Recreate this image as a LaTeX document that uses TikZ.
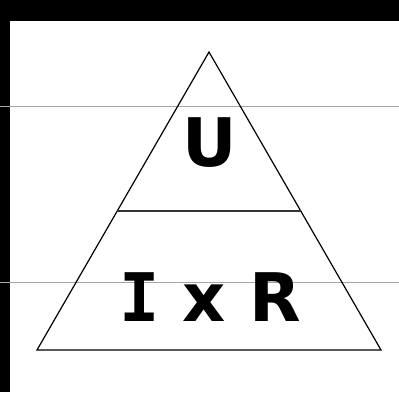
\documentclass[tikz,border=0pt]{standalone}
\usepackage{fontspec}
\setmainfont{DejaVu Sans}
\newfontfamily\serifI{DejaVu Sans Mono}
\usepackage{tikz}
\usetikzlibrary{calc}

\begin{document}
\begin{tikzpicture}[x=1pt,y=-1pt]
        \tikzset{GuideStyle/.style={draw=gray!70, line width=0.9pt}}
        \tikzset{EdgeStyle/.style={draw=black, line width=1.2pt, line join=miter}}
        \tikzset{LabelStyle/.style={font=\fontsize{67}{67}\selectfont\bfseries, inner sep=0pt}}
        \useasboundingbox (0,0) rectangle (399,392);
        \fill[white] (0,0) rectangle (399,392);
        \fill[black] (0,0) rectangle (399,21);
        \fill[black] (0,0) rectangle (10,392);
        \draw[GuideStyle] (0,106) -- (399,106);
        \draw[GuideStyle] (0,282) -- (399,282);
        \coordinate (apex) at (209,52);
        \coordinate (baseL) at (37,350);
        \coordinate (baseR) at (381,350);
        \coordinate (divL) at ($(apex)!0.534!(baseL)$);
        \coordinate (divR) at ($(apex)!0.534!(baseR)$);
        \draw[EdgeStyle] (apex) -- (baseL) -- (baseR) -- cycle;
        \draw[EdgeStyle, draw=black!80, line width=1.5pt] (divL) -- (divR);
        \node[LabelStyle] (U) at (210,143) {U};
        \node[LabelStyle] (IxR) at (210,297) {{\serifI I} x R};
\end{tikzpicture}
\end{document}
